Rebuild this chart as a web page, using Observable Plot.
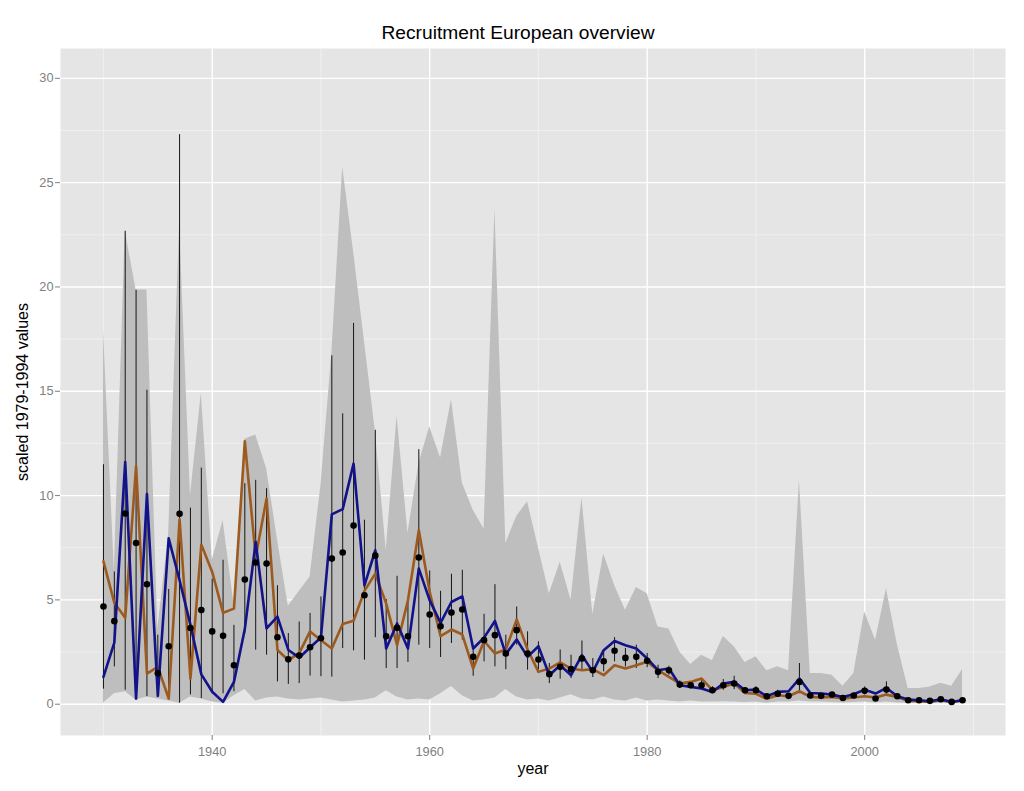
<!DOCTYPE html>
<html><head><meta charset="utf-8">
<script src="https://cdn.jsdelivr.net/npm/d3@7"></script>
<script src="https://cdn.jsdelivr.net/npm/@observablehq/plot@0.6"></script>
<style>
body{margin:0;background:#fff;font-family:"Liberation Sans",Arial,sans-serif;}
#title{height:48px;width:1024px;position:relative;}
#title span{position:absolute;left:0;width:1036px;text-align:center;top:23px;font-size:19.2px;line-height:20px;color:#000;white-space:nowrap;}
</style></head><body>
<div id="title"><span>Recruitment European overview</span></div>
<div id="chart"></div>
<script>
const years = [1930,1931,1932,1933,1934,1935,1936,1937,1938,1939,1940,1941,1942,1943,1944,1945,1946,1947,1948,1949,
  1950,1951,1952,1953,1954,1955,1956,1957,1958,1959,1960,1961,1962,1963,1964,1965,1966,1967,1968,1969,
  1970,1971,1972,1973,1974,1975,1976,1977,1978,1979,1980,1981,1982,1983,1984,1985,1986,1987,1988,1989,
  1990,1991,1992,1993,1994,1995,1996,1997,1998,1999,2000,2001,2002,2003,2004,2005,2006,2007,2008,2009];

const pointValue = [4.68,3.98,9.14,7.73,5.75,1.48,2.78,9.13,3.65,4.51, 3.49,3.28,1.87,5.98,6.79,6.74,3.21,2.15,2.33,2.73,
  3.16,6.98,7.27,8.56,5.22,7.12,3.26,3.66,3.26,7.03, 4.30,3.74,4.39,4.54,2.27,3.07,3.31,2.43,3.55,2.43,
  2.14,1.44,1.79,1.68,2.19,1.63,2.06,2.56,2.22,2.27, 2.08,1.55,1.63,0.94,0.91,0.91,0.67,0.91,0.99,0.67,
  0.67,0.38,0.50,0.40,1.07,0.42,0.40,0.46,0.30,0.42, 0.64,0.27,0.70,0.38,0.19,0.19,0.16,0.24,0.11,0.19];

const errLow = [0.72,1.79,0.67,0.30,0.36,0.40,0.30,0.05,0.45,0.27, 0.50,0.50,0.60,3.40,2.59,2.35,1.07,0.95,0.99,1.35,
  1.32,1.30,2.67,2.56,2.11,3.19,1.71,1.71,2.00,2.83, 2.67,2.24,2.91,3.07,1.34,2.03,1.79,1.66,2.83,1.63,
  1.63,0.99,1.20,1.23,1.63,1.28,1.55,2.03,1.79,1.71, 1.75,1.23,1.39,0.76,0.80,0.67,0.55,0.67,0.70,0.55,
  0.50,0.30,0.35,0.32,0.50,0.35,0.33,0.38,0.25,0.35, 0.45,0.22,0.45,0.30,0.15,0.15,0.13,0.20,0.08,0.15];

const errHigh = [11.48,6.34,22.67,19.84,15.05,3.31,5.50,27.30,9.40,11.32, 6.00,6.90,3.78,10.57,10.73,10.33,5.68,3.39,3.94,4.35,
  5.14,16.70,13.92,18.25,8.82,13.13,5.02,6.13,5.02,12.20, 6.39,5.41,6.23,6.42,2.71,4.31,5.73,3.31,4.66,3.47,
  2.99,1.95,2.60,2.35,3.03,2.19,2.59,3.19,2.67,2.83, 2.43,1.87,1.82,1.12,1.00,1.18,0.84,1.18,1.34,0.80,
  0.84,0.45,0.67,0.50,1.95,0.50,0.47,0.54,0.35,0.50, 0.83,0.33,1.07,0.46,0.23,0.23,0.20,0.28,0.14,0.23];

const blueLine = [1.31,2.95,11.61,0.27,10.07,0.40,7.95,5.94,3.80,1.43, 0.60,0.11,1.07,3.60,7.78,3.63,4.20,2.60,2.23,2.72,
  3.20,9.10,9.35,11.53,5.70,7.38,2.67,3.87,2.67,6.50, 4.98,3.90,4.90,5.17,2.67,3.19,3.99,2.40,3.10,2.27,
  2.78,1.39,1.87,1.39,2.35,1.55,2.59,3.03,2.83,2.67, 2.19,1.63,1.71,0.91,0.83,0.75,0.59,0.99,1.07,0.67,
  0.70,0.38,0.59,0.62,1.23,0.54,0.51,0.46,0.35,0.48, 0.70,0.51,0.78,0.38,0.22,0.19,0.14,0.24,0.11,0.19];

const brownLine = [6.85,4.86,4.14,11.40,1.47,1.79,0.27,8.86,1.23,7.65, 6.34,4.38,4.58,12.60,7.06,9.86,2.60,2.11,2.45,3.49,
  3.07,2.67,3.85,4.00,5.43,6.26,4.82,2.83,4.98,8.34, 5.38,3.26,3.58,3.34,1.71,3.03,2.43,2.62,4.06,2.62,
  1.55,1.71,2.00,1.71,1.63,1.68,1.39,1.87,1.71,1.87, 2.03,1.63,1.31,0.99,1.07,1.23,0.67,0.83,0.99,0.54,
  0.50,0.26,0.43,0.38,0.62,0.35,0.32,0.35,0.27,0.32, 0.38,0.32,0.46,0.35,0.16,0.14,0.11,0.19,0.11,0.19];

const ribbonLow = [0.05,0.50,0.60,0.20,0.35,0.25,0.15,0.05,0.35,0.25, 0.10,0.05,0.40,0.70,0.15,0.30,0.35,0.25,0.20,0.25,
  0.30,0.20,0.10,0.15,0.20,0.30,0.65,0.35,0.20,0.25, 0.20,0.50,0.85,0.40,0.15,0.20,0.30,0.70,0.35,0.20,
  0.25,0.15,0.30,0.45,0.25,0.20,0.35,0.20,0.15,0.30, 0.15,0.20,0.15,0.10,0.15,0.10,0.10,0.12,0.10,0.08,
  0.10,0.05,0.10,0.10,0.15,0.10,0.10,0.08,0.06,0.08, 0.10,0.06,0.10,0.06,0.05,0.05,0.04,0.05,0.03,0.05];

const ribbonHigh = [18.0,6.4,22.7,19.85,19.85,3.6,8.2,23.0,10.0,14.9, 6.9,8.8,4.8,12.7,12.9,11.3,7.9,4.7,5.4,6.1,
  10.5,16.8,25.75,21.7,17.4,13.1,7.4,13.8,8.2,11.5, 13.3,11.8,14.6,10.6,9.3,8.4,23.75,7.7,9.0,9.7,
  7.5,5.3,6.8,5.0,9.9,4.3,7.2,5.7,4.5,5.6, 5.3,3.7,3.6,2.5,1.9,2.35,2.1,3.25,2.75,2.0,
  2.27,1.6,1.79,1.6,10.73,1.47,1.47,1.39,0.86,1.47, 4.42,3.07,5.54,2.87,0.75,0.75,0.83,1.0,0.86,1.66];

const xTicks = [1940, 1960, 1980, 2000];
const xMinorTicks = [1930, 1950, 1970, 1990, 2010];
const yTicks = [0, 5, 10, 15, 20, 25, 30];
const yMinorTicks = [2.5, 7.5, 12.5, 17.5, 22.5, 27.5];
const xLabel = "year";
const yLabel = "scaled 1979-1994 values";

const rows = years.map((year, i) => ({
  year, point: pointValue[i], lo: errLow[i], hi: errHigh[i],
  blue: blueLine[i], brown: brownLine[i], rlo: ribbonLow[i], rhi: ribbonHigh[i]
}));

const grey50 = "#7F7F7F";

const chart = Plot.plot({
  width: 1024,
  height: 743,
  marginTop: 0,
  marginBottom: 56,
  marginLeft: 60,
  marginRight: 19,
  style: {fontFamily: "'Liberation Sans', Arial, sans-serif", fontSize: "12.8px", background: "white", overflow: "visible"},
  x: {type: "linear", domain: [1926.05, 2012.95]},
  y: {domain: [-1.5, 31.43]},
  marks: [
    Plot.frame({fill: "#E5E5E5", stroke: "none"}),
    Plot.gridX({ticks: xMinorTicks, stroke: "#F2F2F2", strokeOpacity: 1, strokeWidth: 0.8}),
    Plot.gridY({ticks: yMinorTicks, stroke: "#F2F2F2", strokeOpacity: 1, strokeWidth: 0.8}),
    Plot.gridX({ticks: xTicks, stroke: "white", strokeOpacity: 1, strokeWidth: 1.4}),
    Plot.gridY({ticks: yTicks, stroke: "white", strokeOpacity: 1, strokeWidth: 1.4}),
    Plot.areaY(rows, {x: "year", y1: "rlo", y2: "rhi", fill: "#BEBEBE", fillOpacity: 1}),
    Plot.ruleX(rows, {x: "year", y1: "lo", y2: "hi", stroke: "#151515", strokeWidth: 1}),
    Plot.lineY(rows, {x: "year", y: "brown", stroke: "#9C5A1F", strokeWidth: 2.6}),
    Plot.lineY(rows, {x: "year", y: "blue", stroke: "#12128A", strokeWidth: 2.6}),
    Plot.dot(rows, {x: "year", y: "point", r: 3.3, fill: "black", stroke: "none"}),
    Plot.axisX({ticks: xTicks, tickFormat: d => String(d), tickSize: 5, tickPadding: 6, color: grey50, fontSize: 12.8, label: null}),
    Plot.axisY({ticks: yTicks, tickFormat: d => String(d), tickSize: 5, tickPadding: 2, color: grey50, fontSize: 12.8, label: null}),
    Plot.text([xLabel], {text: d => d, frameAnchor: "bottom", dy: 38, fontSize: 16, fill: "black"}),
    Plot.text([yLabel], {text: d => d, frameAnchor: "left", textAnchor: "middle", dx: -38, rotate: -90, fontSize: 16, fill: "black"})
  ]
});
document.getElementById("chart").appendChild(chart);
</script>
</body></html>
